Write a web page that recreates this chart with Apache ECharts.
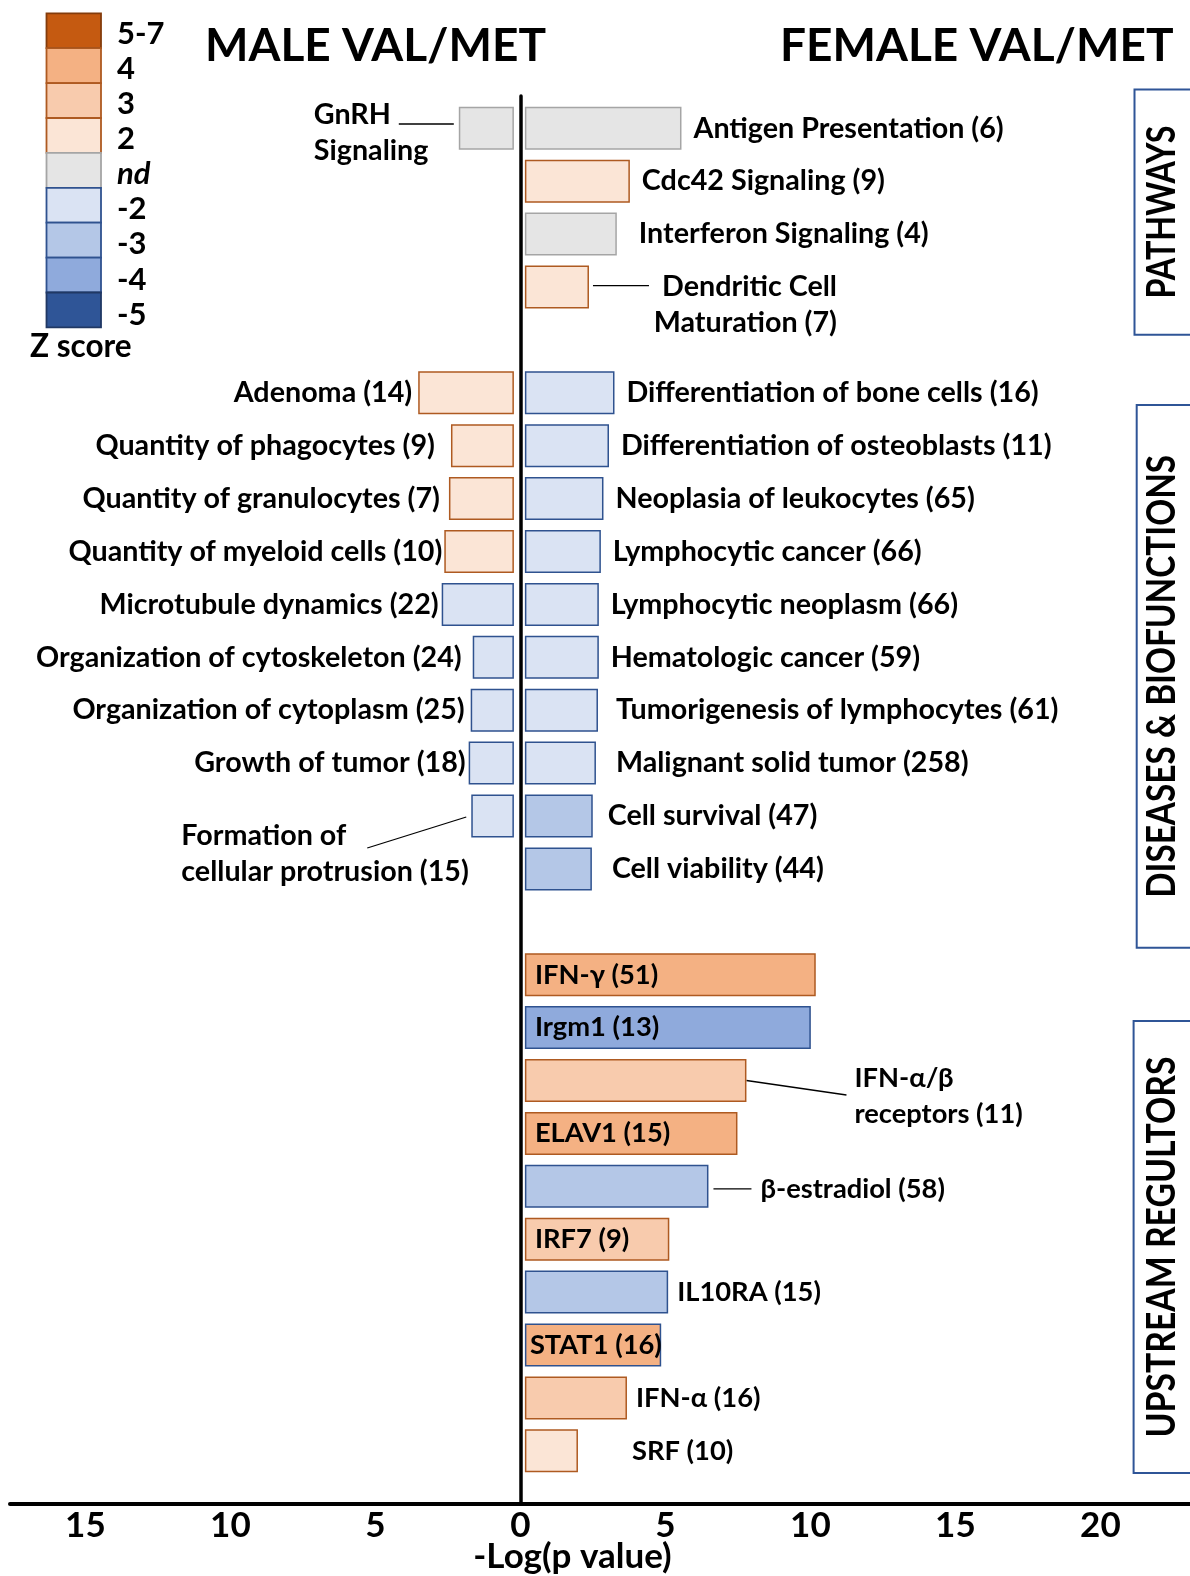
<!DOCTYPE html>
<html><head><meta charset="utf-8">
<script src="https://cdn.jsdelivr.net/npm/echarts@6/dist/echarts.min.js"></script>
<style>html,body{margin:0;padding:0;background:#fff}#c{width:1190px;height:1576px}</style>
</head><body><div id="c"></div><script>
// ---------- DATA (26 rows: pathways 0-3, diseases & biofunctions 5-14, upstream regulators 16-25) ----------
const femaleLabels = [
  'Antigen Presentation (6)', 'Cdc42 Signaling (9)', 'Interferon Signaling (4)', 'Dendritic Cell\nMaturation (7)', null,
  'Differentiation of bone cells (16)', 'Differentiation of osteoblasts (11)', 'Neoplasia of leukocytes (65)',
  'Lymphocytic cancer (66)', 'Lymphocytic neoplasm (66)', 'Hematologic cancer (59)', 'Tumorigenesis of lymphocytes (61)',
  'Malignant solid tumor (258)', 'Cell survival (47)', 'Cell viability (44)', null,
  'IFN-γ (51)', 'Irgm1 (13)', 'IFN-α/β\nreceptors (11)', 'ELAV1 (15)', 'β-estradiol (58)', 'IRF7 (9)',
  'IL10RA (15)', 'STAT1 (16)', 'IFN-α (16)', 'SRF (10)'
];
const femaleValues = [5.40, 3.62, 3.17, 2.21, null,
  3.09, 2.90, 2.71, 2.62, 2.55, 2.55, 2.52, 2.45, 2.34, 2.31, null,
  10.03, 9.86, 7.64, 7.33, 6.33, 4.98, 4.94, 4.70, 3.52, 1.83];
const femaleZ = ['nd', '2', 'nd', '2', null,
  '-2', '-2', '-2', '-2', '-2', '-2', '-2', '-2', '-3', '-3', null,
  '4', '-4', '3', '4', '-3', '3', '-3', '4', '3', '2'];

const maleLabels = [
  'GnRH\nSignaling', null, null, null, null,
  'Adenoma (14)', 'Quantity of phagocytes (9)', 'Quantity of granulocytes (7)', 'Quantity of myeloid cells (10)',
  'Microtubule dynamics (22)', 'Organization of cytoskeleton (24)', 'Organization of cytoplasm (25)',
  'Growth of tumor (18)', 'Formation of\ncellular protrusion (15)', null, null,
  null, null, null, null, null, null, null, null, null, null
];
const maleValues = [1.90, null, null, null, null,
  3.30, 2.17, 2.24, 2.40, 2.49, 1.42, 1.49, 1.56, 1.47, null, null,
  null, null, null, null, null, null, null, null, null, null];
const maleZ = ['nd', null, null, null, null,
  '2', '2', '2', '2', '-2', '-2', '-2', '-2', '-2', null, null,
  null, null, null, null, null, null, null, null, null, null];

const legendLevels = ['5-7', '4', '3', '2', 'nd', '-2', '-3', '-4', '-5'];
const sectionNames = ['PATHWAYS', 'DISEASES & BIOFUNCTIONS', 'UPSTREAM REGULTORS'];
const axisTickValues = [-15, -10, -5, 0, 5, 10, 15, 20];
const titles = ['MALE VAL/MET', 'FEMALE VAL/MET'];

// ---------- STYLE ----------
const FONT = 'Lato';
const fillOf = {'5-7':'#C55A11','4':'#F4B183','3':'#F8CBAD','2':'#FBE5D6','nd':'#E5E5E5',
  '-2':'#DAE3F3','-3':'#B4C7E7','-4':'#8FAADC','-5':'#2F5597'};
function borderOf(z) {
  if (z === 'nd') return '#A5A5A5';
  if (z === '5-7') return '#843C0C';
  if (z === '-5') return '#203864';
  return z[0] === '-' ? '#2F528F' : '#AE5A21';
}
const borderOverrideF = {23: '#2F528F'};           // STAT1 outlined in blue
const insideF = new Set([16, 17, 19, 21, 23]);       // labels written inside the bar
const distF = {2: 22, 11: 18, 12: 20, 13: 15, 14: 20, 22: 9, 24: 9, 25: 54};
const insideDistF = {23: 5};
const distM = {6: 16, 7: 9, 8: 2, 9: 3, 10: 11, 12: 3};
const OFF_R = 0.155, OFF_L = 0.224;                  // small gap between centre line and bars
const XMIN = -17.6, XMAX = 23.09;
const FS_UPPER = 28.7, FS_LOWER = 27.3;              // label size: pathways/diseases vs regulators
const fsOf = row => row < 15 ? FS_UPPER : FS_LOWER;

// leader-line annotations: pixel offsets from the bar end
const annotations = [
  {side:'F', row:3,  line:[4, -1.3, 60, -1.3],  text:[248, 18],  align:'right'},
  {side:'F', row:18, line:[0, 0, 100, 14.5],    text:[108, 16],  align:'left'},
  {side:'F', row:20, line:[5, 2.5, 43, 2.5],    text:[52, 3],    align:'left'},
  {side:'M', row:0,  line:[-5, -4.3, -60, -4.3],text:[-145, 4],  align:'left'},
  {side:'M', row:13, line:[-5, 1, -104, 32],    text:[-290, 38], align:'left'}
];
const specialF = new Set(annotations.filter(a => a.side === 'F').map(a => a.row));
const specialM = new Set(annotations.filter(a => a.side === 'M').map(a => a.row));

const rows = femaleLabels.map((_, i) => 'r' + i);
const labelText = {fontFamily: FONT, fontWeight: 'bold', fontSize: FS_UPPER, color: '#000'};

const femaleData = femaleValues.map((v, i) => {
  if (v == null) return '-';
  const z = femaleZ[i];
  const inside = insideF.has(i);
  return {
    value: v,
    itemStyle: {color: fillOf[z], borderColor: borderOverrideF[i] || borderOf(z), borderWidth: 1.5},
    label: {
      show: !specialF.has(i),
      fontSize: fsOf(i),
      position: inside ? 'insideLeft' : 'right',
      distance: inside ? (insideDistF[i] != null ? insideDistF[i] : 10) : (distF[i] != null ? distF[i] : 12)
    }
  };
});
const maleData = maleValues.map((v, i) => {
  if (v == null) return '-';
  const z = maleZ[i];
  return {
    value: -v,
    itemStyle: {color: fillOf[z], borderColor: borderOf(z), borderWidth: 1.5},
    label: {show: !specialM.has(i), fontSize: fsOf(i), position: 'left', distance: distM[i] != null ? distM[i] : 6}
  };
});

const annData = annotations.map(a => {
  const v = a.side === 'F' ? OFF_R + femaleValues[a.row] : -(OFF_L + maleValues[a.row]);
  return [v, a.row];
});

// ---------- GRAPHIC (legend + section boxes) ----------
const ctx = document.createElement('canvas').getContext('2d');
function fitScale(text, font, target) { ctx.font = font; const w = ctx.measureText(text).width; return w > 0 ? target / w : 1; }

const graphics = [];
legendLevels.forEach((lv, i) => {
  graphics.push({type:'rect', shape:{x:46.5, y:13.3 + i * 34.9, width:54.5, height:34.9},
    style:{fill: fillOf[lv], stroke: borderOf(lv), lineWidth: 1.8}});
  graphics.push({type:'text', x:117, y:33.5 + i * 35.15,
    style:{text: lv, fill:'#000', font: (lv === 'nd' ? 'italic ' : '') + 'bold 31px ' + FONT, verticalAlign:'middle', align:'left'}});
});
graphics.push({type:'text', x:30, y:347, style:{text:'Z score', fill:'#000', font:'bold 31.5px ' + FONT, verticalAlign:'middle', align:'left'}});

const sectionBoxes = [
  {x:1134.5, y0:89.5, y1:334.7, len:173},
  {x:1136.7, y0:405,  y1:947.7, len:443},
  {x:1133.6, y0:1021, y1:1473,  len:381}
];
const secFont = 'bold 40px ' + FONT;
sectionBoxes.forEach((b, i) => {
  graphics.push({type:'rect', shape:{x:b.x, y:b.y0, width:80, height:b.y1 - b.y0},
    style:{fill:'none', stroke:'#2F5597', lineWidth:2}});
  graphics.push({type:'text', x:1162, y:(b.y0 + b.y1) / 2, rotation: Math.PI / 2,
    scaleX: fitScale(sectionNames[i], secFont, b.len),
    style:{text: sectionNames[i], fill:'#000', font: secFont, align:'center', verticalAlign:'middle'}});
});

// ---------- CHART ----------
const titleStyle = {fontFamily: FONT, fontWeight: 'bold', fontSize: 46, color: '#000'};
const chart = echarts.init(document.getElementById('c'), null, {renderer:'canvas'});
chart.setOption({
  animation: false,
  backgroundColor: '#fff',
  title: [
    {text: titles[0], left: 205, top: 23, padding: 0, textStyle: titleStyle},
    {text: titles[1], left: 780, top: 23, padding: 0, textStyle: titleStyle}
  ],
  grid: [
    {left: 10, right: 0, top: 101.85, bottom: 98.75, outerBoundsMode: 'none', containLabel: false},
    {left: 10, right: 0, top: 96, bottom: 72, outerBoundsMode: 'none', containLabel: false}
  ],
  xAxis: [
    {gridIndex: 0, type: 'value', min: XMIN, max: XMAX, show: false},
    {gridIndex: 1, type: 'value', min: XMIN, max: XMAX,
      axisLine: {show: true, onZero: false, lineStyle: {color:'#000', width: 4}},
      axisTick: {show: false}, splitLine: {show: false},
      axisLabel: {customValues: axisTickValues, formatter: v => String(Math.abs(v)), margin: 4,
        fontFamily: FONT, fontWeight: 'bold', fontSize: 35, color:'#000'},
      name: '-Log(p value)', nameLocation: 'middle', nameGap: 35, nameMoveOverlap: false,
      nameTextStyle: {fontFamily: FONT, fontWeight: 'bold', fontSize: 35, color:'#000', padding: [0, 55, 0, 0]}}
  ],
  yAxis: [
    {gridIndex: 0, type: 'category', data: rows, inverse: true, show: false},
    {gridIndex: 1, type: 'value', min: 0, max: 1,
      axisLine: {show: true, onZero: true, lineStyle: {color:'#000', width: 3.5}},
      axisTick: {show: false}, axisLabel: {show: false}, splitLine: {show: false}}
  ],
  series: [
    {name:'offR', type:'bar', stack:'s', xAxisIndex:0, yAxisIndex:0, barWidth: 43, silent: true,
      itemStyle:{color:'rgba(0,0,0,0)'}, data: femaleValues.map(v => v == null ? '-' : OFF_R)},
    {name:'offL', type:'bar', stack:'s', xAxisIndex:0, yAxisIndex:0, barWidth: 43, silent: true,
      itemStyle:{color:'rgba(0,0,0,0)'}, data: maleValues.map(v => v == null ? '-' : -OFF_L)},
    {name:'Female VAL/MET', type:'bar', stack:'s', xAxisIndex:0, yAxisIndex:0, barWidth: 43, silent: true,
      label: Object.assign({show: true, formatter: p => femaleLabels[p.dataIndex]}, labelText),
      data: femaleData},
    {name:'Male VAL/MET', type:'bar', stack:'s', xAxisIndex:0, yAxisIndex:0, barWidth: 43, silent: true,
      label: Object.assign({show: true, formatter: p => maleLabels[p.dataIndex]}, labelText),
      data: maleData},
    {name:'annotations', type:'custom', xAxisIndex:0, yAxisIndex:0, silent: true, encode:{x:0, y:1},
      data: annData,
      renderItem: function (params, api) {
        const a = annotations[params.dataIndex];
        const p = api.coord([api.value(0), api.value(1)]);
        const txt = a.side === 'F' ? femaleLabels[a.row] : maleLabels[a.row];
        return {type:'group', children:[
          {type:'line', shape:{x1:p[0] + a.line[0], y1:p[1] + a.line[1], x2:p[0] + a.line[2], y2:p[1] + a.line[3]},
            style:{stroke:'#000', lineWidth:1.3}},
          {type:'text', x:p[0] + a.text[0], y:p[1] + a.text[1],
            style:{text: txt, fill:'#000', fontFamily: FONT, fontWeight:'bold', fontSize: fsOf(a.row),
              align: a.align, verticalAlign:'middle', lineHeight: 36}}
        ]};
      }}
  ],
  graphic: {elements: graphics}
});
</script></body></html>
